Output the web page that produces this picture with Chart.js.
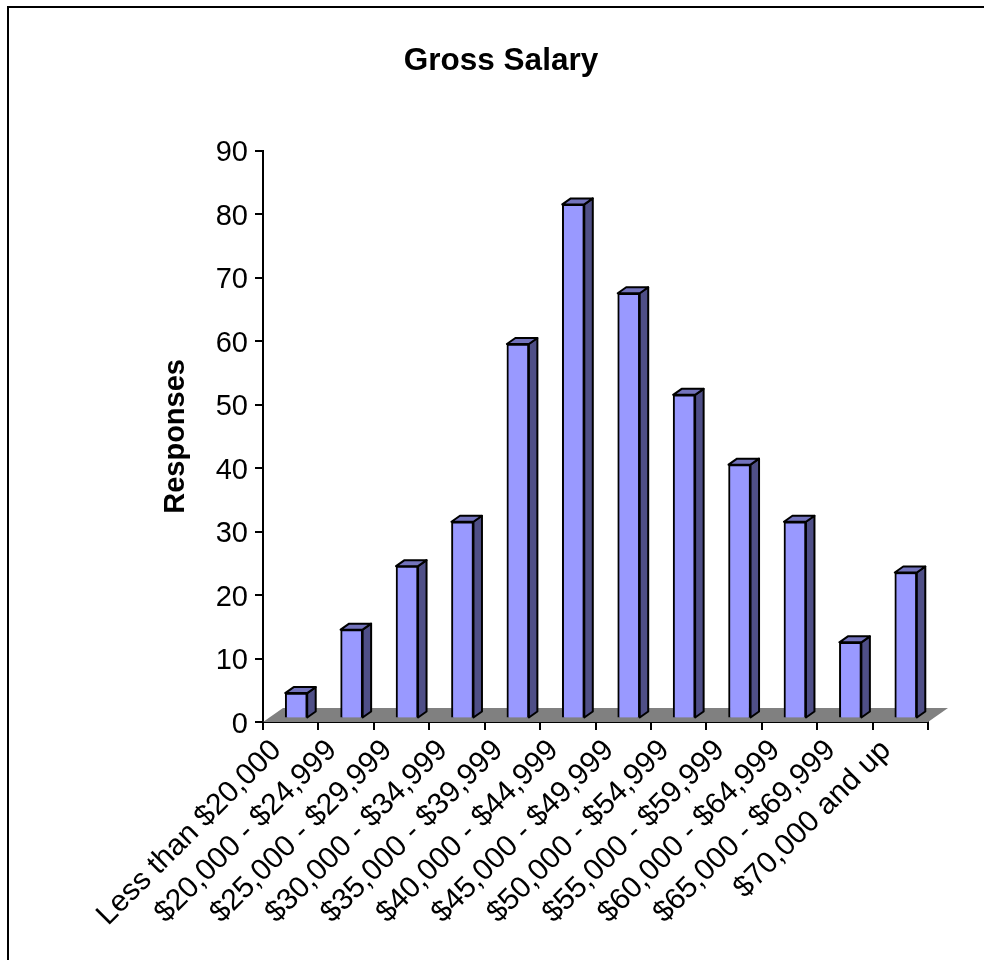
<!DOCTYPE html>
<html>
<head>
<meta charset="utf-8">
<title>Gross Salary</title>
<script src="https://cdn.jsdelivr.net/npm/chart.js@4"></script>
<style>
  html, body { margin: 0; padding: 0; background: #fff; }
  #wrap { width: 984px; height: 960px; }
</style>
</head>
<body>
<div id="wrap"><canvas id="salaryChart" width="984" height="960"></canvas></div>
<script>
const salaryBands = [
  "Less than $20,000", "$20,000 - $24,999", "$25,000 - $29,999", "$30,000 - $34,999",
  "$35,000 - $39,999", "$40,000 - $44,999", "$45,000 - $49,999", "$50,000 - $54,999",
  "$55,000 - $59,999", "$60,000 - $64,999", "$65,000 - $69,999", "$70,000 and up"
];
const responses = [4, 14, 24, 31, 59, 81, 67, 51, 40, 31, 12, 23];

// fake 3D: bars sit part way back on the floor and have a small extruded depth
const FLOOR_DX = 20, FLOOR_DY = 14;
const BAR_SHIFT_X = 5.5, BAR_SHIFT_Y = 3.5;
const DEPTH_X = 8.5, DEPTH_Y = 6;

const bars3d = {
  id: "bars3d",
  beforeDatasetsDraw(chart) {
    const { ctx, chartArea: a } = chart;
    ctx.save();
    ctx.fillStyle = "#808080";
    ctx.beginPath();
    ctx.moveTo(a.left, a.bottom);
    ctx.lineTo(a.left + FLOOR_DX, a.bottom - FLOOR_DY);
    ctx.lineTo(a.right + FLOOR_DX, a.bottom - FLOOR_DY);
    ctx.lineTo(a.right, a.bottom);
    ctx.closePath();
    ctx.fill();
    ctx.restore();

    ctx.save();
    ctx.translate(BAR_SHIFT_X, -BAR_SHIFT_Y);
    ctx.lineWidth = 2;
    ctx.strokeStyle = "#000";
    ctx.lineJoin = "round";
    chart.getDatasetMeta(0).data.forEach((bar) => {
      const l = bar.x - bar.width / 2, r = bar.x + bar.width / 2;
      const t = bar.y, b = bar.base;
      // right side
      ctx.fillStyle = "#4f4f87";
      ctx.beginPath();
      ctx.moveTo(r, t);
      ctx.lineTo(r + DEPTH_X, t - DEPTH_Y);
      ctx.lineTo(r + DEPTH_X, b - DEPTH_Y);
      ctx.lineTo(r, b);
      ctx.closePath();
      ctx.fill();
      ctx.stroke();
      // top
      ctx.fillStyle = "#7373bd";
      ctx.beginPath();
      ctx.moveTo(l, t);
      ctx.lineTo(l + DEPTH_X, t - DEPTH_Y);
      ctx.lineTo(r + DEPTH_X, t - DEPTH_Y);
      ctx.lineTo(r, t);
      ctx.closePath();
      ctx.fill();
      ctx.stroke();
    });
    // front faces are drawn by the bar elements, still translated
  },
  afterDatasetsDraw(chart) {
    chart.ctx.restore();
  }
};

// chart frame, only the top and left edges fall inside the page
const frame = {
  id: "frame",
  beforeDraw(chart) {
    const { ctx, width, height } = chart;
    ctx.save();
    ctx.strokeStyle = "#000";
    ctx.lineWidth = 2;
    ctx.beginPath();
    ctx.moveTo(8, height);
    ctx.lineTo(8, 7);
    ctx.lineTo(width, 7);
    ctx.stroke();
    ctx.restore();
  }
};

new Chart(document.getElementById("salaryChart"), {
  type: "bar",
  data: {
    labels: salaryBands,
    datasets: [{
      label: "Responses",
      data: responses,
      backgroundColor: "#9999ff",
      borderColor: "#000",
      borderWidth: 2,
      barThickness: 22
    }]
  },
  plugins: [frame, bars3d],
  options: {
    responsive: false,
    animation: false,
    layout: { padding: { left: 74, right: 56, top: 42, bottom: 10 } },
    plugins: {
      legend: { display: false },
      tooltip: { enabled: false },
      title: {
        display: true,
        text: "Gross Salary",
        color: "#000",
        font: { family: "Liberation Sans", size: 31.5, weight: "bold" },
        padding: { top: 0, bottom: 71 }
      }
    },
    scales: {
      x: {
        offset: true,
        grid: { offset: true, drawOnChartArea: false, color: "#000", tickLength: 8, tickWidth: 2, lineWidth: 2 },
        border: { color: "#000", width: 2 },
        ticks: {
          color: "#000",
          font: { family: "Liberation Sans", size: 30 },
          minRotation: 45,
          maxRotation: 45,
          autoSkip: false,
          padding: 3,
          labelOffset: -14
        },
        afterFit(scale) { scale.height = 228; }
      },
      y: {
        min: 0,
        max: 90,
        title: {
          display: true,
          text: "Responses",
          color: "#000",
          font: { family: "Liberation Sans", size: 29, weight: "bold" },
          padding: { top: 85, bottom: 0 }
        },
        grid: { drawOnChartArea: false, color: "#000", tickLength: 8, tickWidth: 2, lineWidth: 2 },
        border: { color: "#000", width: 2 },
        ticks: {
          color: "#000",
          stepSize: 10,
          padding: 7,
          labelOffset: 2.5,
          font: { family: "Liberation Sans", size: 29 }
        },
        afterFit(scale) { scale.width = 189; }
      }
    }
  }
});
</script>
</body>
</html>
